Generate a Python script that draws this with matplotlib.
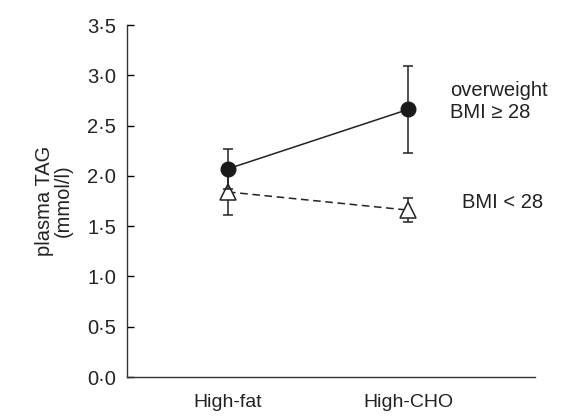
import matplotlib
matplotlib.use("Agg")
import matplotlib.pyplot as plt

# dados
dietas = ["High-fat", "High-CHO"]
posicoes = [1, 2]
tag_sobrepeso = [2.07, 2.66]   # BMI >= 28
erro_sobrepeso = [0.20, 0.43]
tag_normal = [1.84, 1.66]      # BMI < 28
erro_normal = [0.23, 0.12]

y_ticks = [0.0, 0.5, 1.0, 1.5, 2.0, 2.5, 3.0, 3.5]
y_labels = ["0·0", "0·5", "1·0", "1·5", "2·0", "2·5", "3·0", "3·5"]

plt.rcParams['font.family'] = ['Liberation Sans', 'DejaVu Sans']

fig = plt.figure(figsize=(5.65, 4.17), dpi=100)
ax = fig.add_axes([0.2248, 0.0959, 0.7221, 0.8441])

# linha tracejada (BMI < 28)
ax.errorbar(posicoes, tag_normal, yerr=erro_normal, fmt='none', ecolor='#222222',
            elinewidth=1.1, capsize=3.5, capthick=1.1, zorder=2)
ax.plot(posicoes, tag_normal, linestyle=(0, (5, 3)), color='#222222', linewidth=1.1,
        marker='^', markersize=11, markerfacecolor='white', markeredgecolor='#222222',
        markeredgewidth=1.1, zorder=3)

# linha contínua (overweight)
ax.errorbar(posicoes, tag_sobrepeso, yerr=erro_sobrepeso, fmt='none', ecolor='#222222',
            elinewidth=1.1, capsize=3.5, capthick=1.1, zorder=4)
ax.plot(posicoes, tag_sobrepeso, linestyle='-', color='#222222', linewidth=1.1,
        marker='o', markersize=10.5, markerfacecolor='#1a1a1a', markeredgecolor='#1a1a1a',
        zorder=5)

ax.text(2.233, 2.735, "overweight\nBMI ≥ 28", ha='left', va='center', fontsize=14.5,
        linespacing=1.2, color='#222222')
ax.text(2.30, 1.74, "BMI < 28", ha='left', va='center', fontsize=14.5, color='#222222')

ax.set_xlim(0.439, 2.706)
ax.set_ylim(0, 3.5)
ax.set_xticks(posicoes)
ax.set_xticklabels(dietas, fontsize=14, color='#222222')
ax.tick_params(axis='x', length=0, pad=12)
ax.set_yticks(y_ticks)
ax.set_yticklabels(y_labels, fontsize=14.5, color='#222222')
ax.tick_params(axis='y', direction='in', length=5, width=1, pad=8)

ax.set_ylabel("plasma TAG\n(mmol/l)", fontsize=14.5, color='#222222', labelpad=10,
              linespacing=1.0)

for lado in ['top', 'right']:
    ax.spines[lado].set_visible(False)
for lado in ['left', 'bottom']:
    ax.spines[lado].set_linewidth(1.0)
    ax.spines[lado].set_color('#333333')

fig.savefig("out.png", dpi=100)
